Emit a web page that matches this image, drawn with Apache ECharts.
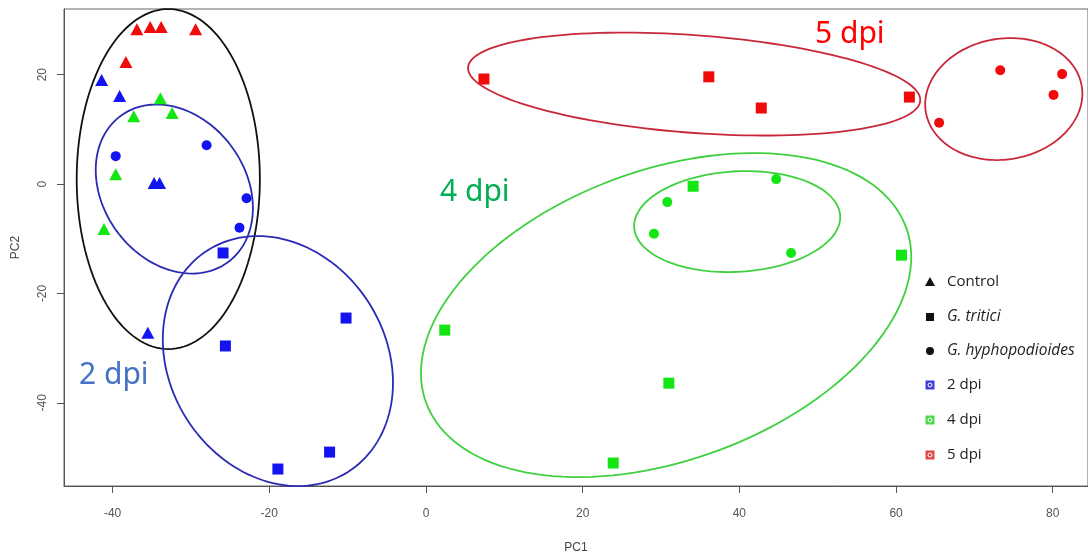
<!DOCTYPE html>
<html>
<head>
<meta charset="utf-8">
<script src="https://cdn.jsdelivr.net/npm/echarts@6/dist/echarts.min.js"></script>
<style>
  html, body { margin: 0; padding: 0; background: #fff; }
  #pca { width: 1088px; height: 553px; }
</style>
</head>
<body>
<div id="pca"></div>
<script>
// tick labels
var xTicks = [-40, -20, 0, 20, 40, 60, 80];
var yTicks = [-40, -20, 0, 20];

// PC1 / PC2 scores
// Control (triangles)
var control2dpi = [[-41.4, 19.0], [-39.1, 16.1], [-34.7, 0.2], [-34.0, 0.2], [-35.5, -27.2]];
var control4dpi = [[-33.9, 15.7], [-37.3, 12.4], [-32.4, 13.0], [-39.6, 1.8], [-41.1, -8.2]];
var control5dpi = [[-36.9, 28.3], [-35.2, 28.7], [-33.8, 28.7], [-29.4, 28.3], [-38.3, 22.3]];
// G. tritici (squares)
var tritici2dpi = [[-25.9, -12.6], [-25.6, -29.6], [-10.2, -24.5], [-12.3, -49.0], [-18.9, -52.1]];
var tritici4dpi = [[2.4, -26.7], [34.1, -0.4], [60.7, -13.0], [31.0, -36.4], [23.9, -51.0]];
var tritici5dpi = [[7.4, 19.2], [36.1, 19.6], [42.8, 13.9], [61.7, 15.9]];
// G. hyphopodioides (circles)
var hypho2dpi = [[-39.6, 5.1], [-28.0, 7.1], [-22.9, -2.6], [-23.8, -8.0]];
var hypho4dpi = [[30.8, -3.3], [29.1, -9.1], [44.7, 0.9], [46.6, -12.6]];
var hypho5dpi = [[73.3, 20.8], [81.2, 20.1], [80.1, 16.3], [65.5, 11.2]];

// group ellipses: centre x, centre y, half width, half height, phase (deg)
var ellipses = [
  [-32.89, 0.91, 11.69, 31.08, 90],    // control
  [-32.12, -0.91, 10.03, 15.45, 103],  // 2 dpi hypho
  [-18.90, -32.36, 14.69, 22.85, 100], // 2 dpi tritici
  [30.65, -23.95, 31.29, 29.62, 69],   // 4 dpi tritici
  [39.72, -6.86, 13.15, 9.23, 85],     // 4 dpi hypho
  [34.23, 18.28, 28.86, 9.41, 108],    // 5 dpi tritici
  [73.75, 15.54, 10.03, 11.15, 85]     // 5 dpi hypho
];
var ellipseColors = ['#111111', '#2a2ab4', '#2a2ab4', '#3fd03f', '#3fd03f', '#c8283a', '#c8283a'];

var BLUE = '#1414f0', GREEN = '#14e614', RED = '#f00a0a';

var chart = echarts.init(document.getElementById('pca'));

function pts(data, symbol, color, size) {
  return {
    type: 'scatter',
    data: data,
    symbol: symbol,
    symbolSize: size,
    itemStyle: { color: color, opacity: 1 },
    z: 3,
    silent: true
  };
}

function drawEllipse(params, api) {
  var e = ellipses[params.dataIndex];
  var path = [];
  for (var k = 0; k <= 144; k++) {
    var t = k / 144 * 2 * Math.PI;
    path.push(api.coord([e[0] + e[2] * Math.cos(t), e[1] + e[3] * Math.cos(t - e[4] * Math.PI / 180)]));
  }
  return {
    type: 'polyline',
    shape: { points: path },
    style: { fill: null, stroke: ellipseColors[params.dataIndex], lineWidth: 1.8 },
    silent: true
  };
}

// legend drawn by hand (R style)
var legendRows = [282, 317, 351, 385, 420, 455];
var legendText = ['Control', 'G. tritici', 'G. hyphopodioides', '2 dpi', '4 dpi', '5 dpi'];
var legendItalic = [false, true, true, false, false, false];
var legendFill = [null, null, null, '#3c3cd8', '#4cd84c', '#e04848'];

var legend = [];
legendRows.forEach(function (y, i) {
  var mx = 930;
  if (i === 0) {
    legend.push({ type: 'polygon', shape: { points: [[mx, y - 5], [mx - 5, y + 4], [mx + 5, y + 4]] }, style: { fill: '#111' } });
  } else if (i === 1) {
    legend.push({ type: 'rect', shape: { x: mx - 4, y: y - 4, width: 8, height: 8 }, style: { fill: '#111' } });
  } else if (i === 2) {
    legend.push({ type: 'circle', shape: { cx: mx, cy: y, r: 4 }, style: { fill: '#111' } });
  } else {
    legend.push({ type: 'rect', shape: { x: mx - 4.5, y: y - 4.5, width: 9, height: 9 }, style: { fill: legendFill[i] } });
    legend.push({ type: 'circle', shape: { cx: mx, cy: y, r: 2 }, style: { fill: null, stroke: '#ffffff', lineWidth: 1 } });
  }
  legend.push({
    type: 'text', x: 947, y: y,
    style: {
      text: legendText[i], fill: '#222', font: (legendItalic[i] ? 'italic 15.5px' : '15px') + ' "Open Sans"',
      textVerticalAlign: 'middle'
    }
  });
});

var bigText = function (txt, x, y, color) {
  return { type: 'text', x: x, y: y, style: { text: txt, fill: color, font: '30px "Noto Sans"', textVerticalAlign: 'middle' } };
};

var option = {
  backgroundColor: '#fff',
  animation: false,
  grid: {
    left: 64, top: 9, right: 0, bottom: 67,
    outerBoundsMode: 'none', containLabel: false,
    show: true, borderColor: '#666', borderWidth: 1
  },
  xAxis: {
    type: 'value', min: -46.2, max: 84.5,
    name: 'PC1', nameLocation: 'middle', nameGap: 56,
    nameTextStyle: { color: '#444', fontSize: 12, fontFamily: 'Liberation Sans' },
    axisLine: { show: true, onZero: false, lineStyle: { color: '#555' } },
    axisTick: { show: true, length: 7, customValues: xTicks, lineStyle: { color: '#555' } },
    axisLabel: { customValues: xTicks, margin: 22, color: '#555', fontSize: 12, fontFamily: 'Liberation Sans' },
    splitLine: { show: false }
  },
  yAxis: {
    type: 'value', min: -55.2, max: 32,
    name: 'PC2', nameLocation: 'middle', nameGap: 42,
    nameTextStyle: { color: '#444', fontSize: 12, fontFamily: 'Liberation Sans' },
    axisLine: { show: true, onZero: false, lineStyle: { color: '#555' } },
    axisTick: { show: true, length: 7, customValues: yTicks, lineStyle: { color: '#555' } },
    axisLabel: { customValues: yTicks, rotate: 90, margin: 15, color: '#555', fontSize: 12, fontFamily: 'Liberation Sans' },
    splitLine: { show: false }
  },
  graphic: legend.concat([
    bigText('5 dpi', 815, 34, '#ff0000'),
    bigText('4 dpi', 440, 192, '#00b050'),
    bigText('2 dpi', 79, 375, '#4472c4')
  ]),
  series: [
    {
      type: 'custom',
      renderItem: drawEllipse,
      data: ellipses.map(function (e) { return [e[0], e[1]]; }),
      encode: { x: 0, y: 1 },
      z: 2,
      silent: true
    },
    pts(control2dpi, 'triangle', BLUE, [13, 12]),
    pts(control4dpi, 'triangle', GREEN, [13, 12]),
    pts(control5dpi, 'triangle', RED, [13, 12]),
    pts(tritici2dpi, 'rect', BLUE, 11),
    pts(tritici4dpi, 'rect', GREEN, 11),
    pts(tritici5dpi, 'rect', RED, 11),
    pts(hypho2dpi, 'circle', BLUE, 10),
    pts(hypho4dpi, 'circle', GREEN, 10),
    pts(hypho5dpi, 'circle', RED, 10)
  ]
};

chart.setOption(option);
</script>
</body>
</html>
